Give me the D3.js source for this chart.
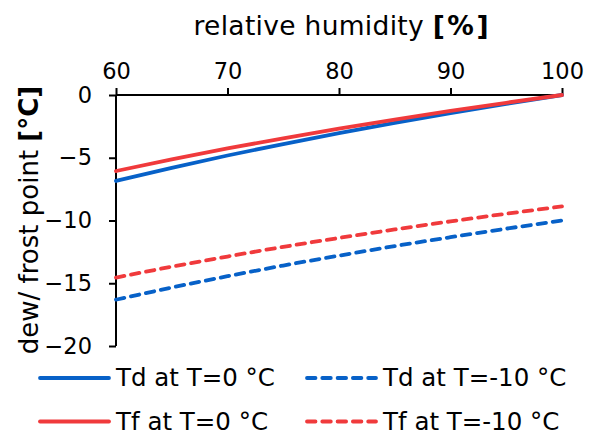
<!DOCTYPE html>
<html><head><meta charset="utf-8">
<script src="https://cdn.jsdelivr.net/npm/d3@7"></script>
<style>body{margin:0;background:#fff}svg{display:block}text{font-family:"DejaVu Sans",Verdana,sans-serif;fill:#000}</style>
</head><body>
<svg id="c" width="594" height="436"></svg>
<script>
const rh = [60, 65, 70, 75, 80, 85, 90, 95, 100];
const tdT0 = [-6.85, -5.80, -4.82, -3.91, -3.04, -2.22, -1.45, -0.71, 0];
const tfT0 = [-6.06, -5.13, -4.26, -3.45, -2.68, -1.96, -1.27, -0.62, 0];
const tdTm10 = [-16.31, -15.34, -14.44, -13.59, -12.80, -12.04, -11.33, -10.65, -10.00];
const tfTm10 = [-14.55, -13.68, -12.87, -12.10, -11.39, -10.71, -10.07, -9.46, -8.88];
const xTicks = [60, 70, 80, 90, 100];
const yTicks = [0, -5, -10, -15, -20];
const seriesNames = ["Td at T=0 °C", "Td at T=-10 °C", "Tf at T=0 °C", "Tf at T=-10 °C"];

const blue = "#0761c8", red = "#f03a3c";
const series = [
  {name: seriesNames[0], vals: tdT0, color: blue, dash: null},
  {name: seriesNames[1], vals: tdTm10, color: blue, dash: "8.5,6.8"},
  {name: seriesNames[2], vals: tfT0, color: red, dash: null},
  {name: seriesNames[3], vals: tfTm10, color: red, dash: "8.5,6.8"}
];

const svg = d3.select("#c");
const x = d3.scaleLinear().domain([60, 100]).range([116, 562]);
const y = d3.scaleLinear().domain([0, -20]).range([95, 346]);

const fs = 22.5;
const xAxis = svg.append("g").attr("transform", "translate(0,95)")
  .call(d3.axisTop(x).tickValues(xTicks).tickSize(7).tickPadding(9));
const yAxis = svg.append("g").attr("transform", "translate(116,0)")
  .call(d3.axisLeft(y).tickValues(yTicks).tickSize(7).tickPadding(17));
[xAxis, yAxis].forEach(a => {
  a.select(".domain").attr("stroke", "#000").attr("stroke-width", 2);
  a.selectAll(".tick line").attr("stroke", "#000").attr("stroke-width", 2);
  a.selectAll(".tick text").attr("font-size", fs).attr("font-family", "DejaVu Sans");
});
xAxis.select(".domain").attr("d", "M116,0H562");
yAxis.select(".domain").attr("d", "M0,95V346");

const line = d3.line().x((d, i) => x(rh[i])).y(d => y(d)).curve(d3.curveMonotoneX);
series.forEach(s => {
  svg.append("path").datum(s.vals).attr("d", line)
    .attr("fill", "none").attr("stroke", s.color).attr("stroke-width", 3.8)
    .attr("stroke-linecap", "round")
    .attr("stroke-dasharray", s.dash);
});

// titles
const t = svg.append("text").attr("x", 341).attr("y", 35).attr("text-anchor", "middle").attr("font-size", 26.5);
t.append("tspan").attr("letter-spacing", 0.3).text("relative humidity ");
t.append("tspan").attr("font-weight", "bold").attr("letter-spacing", 2.5).text("[%");
t.append("tspan").attr("font-weight", "bold").text("]");
const yl = svg.append("text").attr("transform", "translate(38,220) rotate(-90)").attr("text-anchor", "middle").attr("font-size", 26);
yl.append("tspan").text("dew/ frost point ");
yl.append("tspan").attr("font-weight", "bold").text("[°C]");

// legend
const legPos = [[40, 378], [307, 378], [40, 421.5], [307, 421.5]];
series.forEach((s, i) => {
  const [lx, ly] = legPos[i];
  svg.append("line").attr("x1", lx).attr("x2", lx + 69).attr("y1", ly).attr("y2", ly)
    .attr("stroke", s.color).attr("stroke-width", 3.8).attr("stroke-linecap", "round")
    .attr("stroke-dasharray", s.dash);
  svg.append("text").attr("x", lx + 76).attr("y", ly).attr("dy", "0.34em").attr("font-size", 24.5).text(s.name);
});
</script>
</body></html>
